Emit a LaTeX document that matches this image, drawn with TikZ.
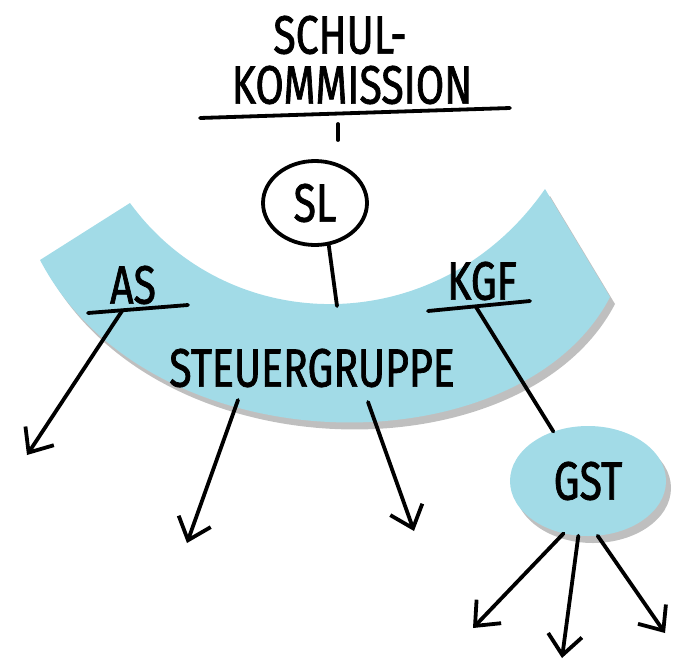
\documentclass[tikz,border=0pt]{standalone}
\usepackage{fontspec}
\setmainfont{Fira Sans}[FakeStretch=0.76, FakeBold=1.3]
\usetikzlibrary{arrows.meta,positioning,shapes.geometric,shadows}
\definecolor{band}{HTML}{A2DBE7}
\definecolor{shade}{HTML}{606060}
\tikzset{
  hand/.style={font=\fontsize{54}{54}\selectfont, inner sep=0pt},
  pen/.style={line width=3.8pt, line cap=round},
  arr/.style={pen, -{Straight Barb[length=20pt,width=34pt]}},
  shad/.style={drop shadow={shadow xshift=5pt, shadow yshift=-7pt, fill=shade, opacity=0.4}},
}

\begin{document}
\begin{tikzpicture}[x=1pt, y=-1pt]
  \useasboundingbox (0,0) rectangle (680,665);
  % band of the Steuergruppe
  \path[fill=band, shad] (130,203) .. controls (230,340) and (440,340) .. (545,189)
    -- (610,297) .. controls (520,470) and (150,470) .. (40,260) -- cycle;
  % title
  \node[hand] (schul) at (340,35) {SCHUL-};
  \node[hand] (komm) at (352,85) {KOMMISSION};
  \coordinate (kl) at (200,118);
  \coordinate (kr) at (510,108);
  \coordinate (k0) at (338,124);
  \coordinate (k1) at (338,140);
  \draw[pen] (kl) -- (kr);
  \draw[pen] (k0) -- (k1);
  % SL
  \node[hand, draw, ellipse, pen, minimum width=104pt, minimum height=84pt] (sl) at (315,203) {SL};
  \coordinate (sg) at (337,306);
  \draw[pen] (sl.-72) -- (sg);
  % AS and KGF
  \node[hand] (as) at (133,285) {AS};
  \coordinate (asl) at (88,313);
  \coordinate (asr) at (188,305);
  \coordinate (asm) at (122,311);
  \coordinate (ast) at (27,455);
  \draw[pen] (asl) -- (asr);
  \draw[arr] (asm) -- (ast);
  \node[hand] (kgf) at (482,281) {KGF};
  \coordinate (kgl) at (428,311);
  \coordinate (kgr) at (530,301);
  \coordinate (kgm) at (476,307);
  \draw[pen] (kgl) -- (kgr);
  \node[hand] (sg) at (312,368) {STEUERGRUPPE};
  % arrows out of the band
  \coordinate (b1) at (238,400);
  \coordinate (t1) at (187,543);
  \coordinate (b2) at (368,402);
  \coordinate (t2) at (414,531);
  \draw[arr] (b1) -- (t1);
  \draw[arr] (b2) -- (t2);
  % GST
  \node[hand, ellipse, fill=band, shad, minimum width=156pt, minimum height=110pt] (gst) at (588,481) {GST};
  \draw[pen] (kgm) -- (gst.125);
  \coordinate (g1) at (473,628);
  \coordinate (g2) at (562,658);
  \coordinate (g3) at (665,633);
  \draw[arr] (gst.-115) -- (g1);
  \draw[arr] (gst.-100) -- (g2);
  \draw[arr] (gst.-80) -- (g3);
\end{tikzpicture}
\end{document}
